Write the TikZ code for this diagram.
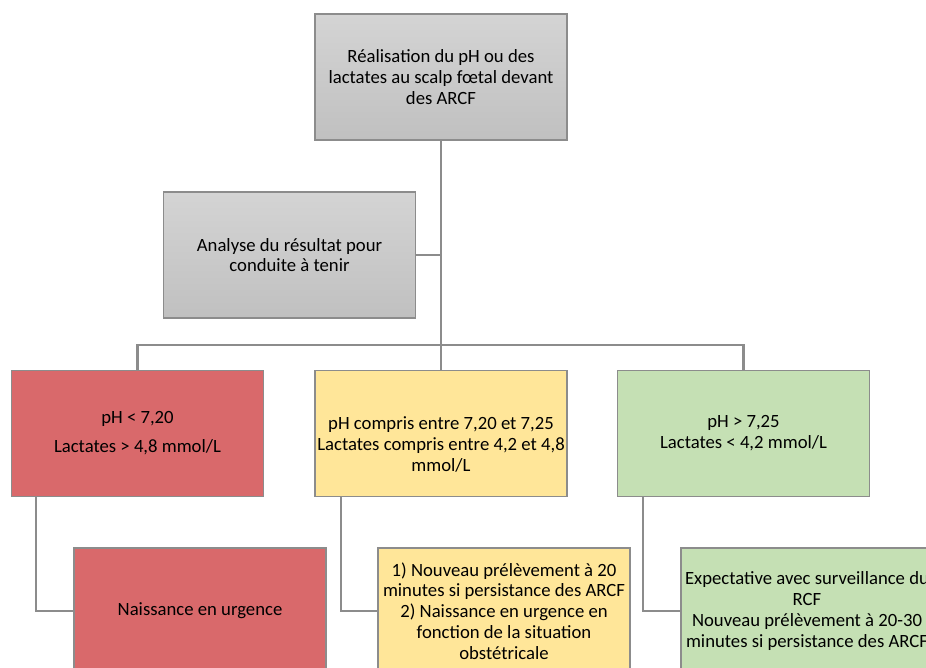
\documentclass[tikz,border=0pt]{standalone}
\usepackage{fontspec}
\setmainfont{Carlito}
\definecolor{edgegray}{HTML}{8C8C8C}
\definecolor{redfill}{HTML}{D9696B}
\definecolor{yellowfill}{HTML}{FFE699}
\definecolor{greenfill}{HTML}{C5E0B4}
\definecolor{graytop}{HTML}{D4D4D4}
\definecolor{graybot}{HTML}{C0C0C0}
\begin{document}
\begin{tikzpicture}[x=1pt,y=-1pt,
  box/.style={draw=edgegray, line width=1.6pt, align=center, inner sep=0pt,
    minimum width=252pt, minimum height=126pt,
    font=\fontsize{18.7}{20.8}\selectfont},
  graybox/.style={box, top color=graytop, bottom color=graybot},
  redbox/.style={box, fill=redfill},
  yellowbox/.style={box, fill=yellowfill},
  greenbox/.style={box, fill=greenfill},
  link/.style={draw=edgegray, line width=2.2pt}]
\clip (0,0) rectangle (926,668);
\useasboundingbox (0,0) rectangle (926,668);
\fill[white] (0,0) rectangle (926,668);

\node[graybox] (top) at (441,77) {Réalisation du pH ou des\\lactates au scalp fœtal devant\\des ARCF};
\node[graybox] (analyse) at (289.5,255) {Analyse du résultat pour\\conduite à tenir};

\node[redbox] (red) at (137.5,433.5) {pH < 7,20\\[8pt]Lactates > 4,8 mmol/L};
\node[yellowbox] (yellow) at (441,433.5) {\strut\\pH compris entre 7,20 et 7,25\\Lactates compris entre 4,2 et 4,8\\mmol/L};
\node[greenbox] (green) at (743.5,433.5) {pH > 7,25\\Lactates < 4,2 mmol/L};

\node[redbox] (redb) at (200,611) {Naissance en urgence};
\node[yellowbox] (yellowb) at (504,611) {1) Nouveau prélèvement à 20\\minutes si persistance des ARCF\\2) Naissance en urgence en\\fonction de la situation\\obstétricale};
\node[greenbox] (greenb) at (807,611) {Expectative avec surveillance du\\RCF\\Nouveau prélèvement à 20-30\\minutes si persistance des ARCF};

\coordinate (bus) at (0,345);
\path[link] (top.south) -- (top.south |- bus);
\path[link] (analyse.east) -- (analyse.east -| top.south);
\path[link] (red.north) |- (green.north |- bus) -- (green.north);
\path[link] (yellow.north |- bus) -- (yellow.north);

\path[link] ([xshift=25pt]red.south west) |- (redb.west);
\path[link] ([xshift=27pt]yellow.south west) |- (yellowb.west);
\path[link] ([xshift=26pt]green.south west) |- (greenb.west);
\end{tikzpicture}
\end{document}
